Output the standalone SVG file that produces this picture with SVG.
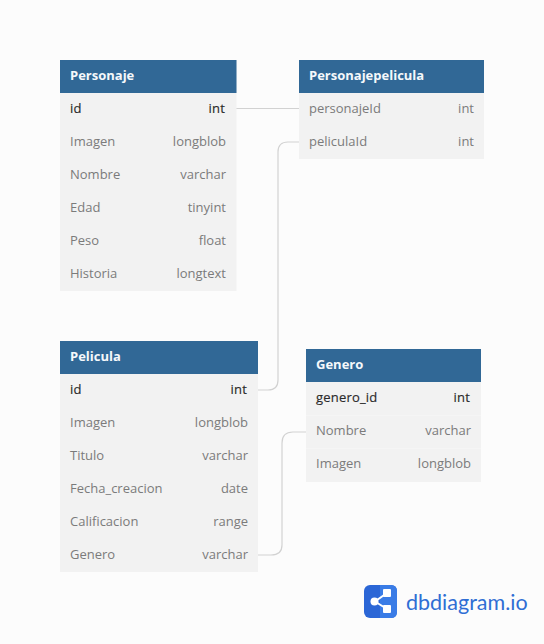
<svg xmlns="http://www.w3.org/2000/svg" width="544" height="644" viewBox="0 0 544 644">
<style>
text{font-family:"Open Sans","Noto Sans",sans-serif;font-size:13px;fill:#7b7b7b}
.h{fill:#316896}.b{fill:#f2f2f2}
.t{font-weight:700;fill:#f5f8fb}
.k{font-weight:500;fill:#2a2a2a;letter-spacing:.2px;stroke:#2a2a2a;stroke-width:.15px}
.r{text-anchor:end}
.c{fill:none;stroke:#d2d2d2;stroke-width:1.2}
.s{fill:#f5f5f5}
</style>
<rect width="544" height="644" fill="#fcfcfc"/>
<g id="connectors">
<path class="c" d="M236 108.500H299" style="stroke-width:1"/>
<path class="c" d="M258 390H268Q278 390 278 380V152Q278 142 288 142H299"/>
<path class="c" d="M258 555H271Q282 555 282 545V443Q282 432 293 432H306"/>
</g>
<g id="personaje">
<rect class="b" x="60" y="60" width="176.500" height="231"/><rect class="h" x="60" y="60" width="176.500" height="33"/>
<text class="t" x="70" y="80">Personaje</text>
<text class="k" x="70" y="113">id</text><text class="k r" x="225" y="113">int</text>
<text x="70" y="146">Imagen</text><text class="r" x="226" y="146">longblob</text>
<text x="70" y="179">Nombre</text><text class="r" x="226" y="179">varchar</text>
<text x="70" y="212">Edad</text><text class="r" x="226" y="212">tinyint</text>
<text x="70" y="245">Peso</text><text class="r" x="226" y="245">float</text>
<text x="70" y="278">Historia</text><text class="r" x="226" y="278">longtext</text>
</g>
<g id="personajepelicula">
<rect class="b" x="299" y="60" width="185" height="99"/><rect class="h" x="299" y="60" width="185" height="33"/>
<text class="t" x="309" y="80">Personajepelicula</text>
<text x="309" y="113">personajeId</text><text class="r" x="474" y="113">int</text>
<text x="309" y="146">peliculaId</text><text class="r" x="474" y="146">int</text>
</g>
<g id="pelicula">
<rect class="b" x="60" y="341" width="198" height="231"/><rect class="h" x="60" y="341" width="198" height="33"/>
<text class="t" x="70" y="361">Pelicula</text>
<text class="k" x="70" y="394">id</text><text class="k r" x="247" y="394">int</text>
<text x="70" y="427">Imagen</text><text class="r" x="248" y="427">longblob</text>
<text x="70" y="460">Titulo</text><text class="r" x="248" y="460">varchar</text>
<text x="70" y="493">Fecha_creacion</text><text class="r" x="248" y="493">date</text>
<text x="70" y="526">Calificacion</text><text class="r" x="248" y="526">range</text>
<text x="70" y="559">Genero</text><text class="r" x="248" y="559">varchar</text>
</g>
<g id="genero">
<rect class="b" x="306" y="349" width="175" height="133"/><rect class="h" x="306" y="349" width="175" height="33"/>
<rect class="s" x="306" y="415" width="175" height="1"/><rect class="s" x="306" y="448" width="175" height="1"/>
<text class="t" x="316" y="369">Genero</text>
<text class="k" x="316" y="402">genero_id</text><text class="k r" x="470" y="402">int</text>
<text x="316" y="435">Nombre</text><text class="r" x="471" y="435">varchar</text>
<text x="316" y="468">Imagen</text><text class="r" x="471" y="468">longblob</text>
</g>
<g id="logo">
<rect x="364" y="585" width="33" height="33" rx="6" fill="#2b66d6"/>
<path d="M380 585H391Q397 585 397 591V612Q397 618 391 618H380Z" fill="#3a7ce6"/>
<path d="M387 593L375 601.500L387 609" fill="none" stroke="#fff" stroke-width="2"/>
<circle cx="374.500" cy="601.500" r="4" fill="#fff"/>
<rect x="383" y="589" width="8" height="8" rx="1" fill="#fff"/>
<rect x="383" y="605" width="8" height="8" rx="1" fill="#fff"/>
<text x="406" y="610" style="font-family:Lato,sans-serif;font-size:21.500px;fill:#2f6ed4">dbdiagram.io</text>
</g>
</svg>
